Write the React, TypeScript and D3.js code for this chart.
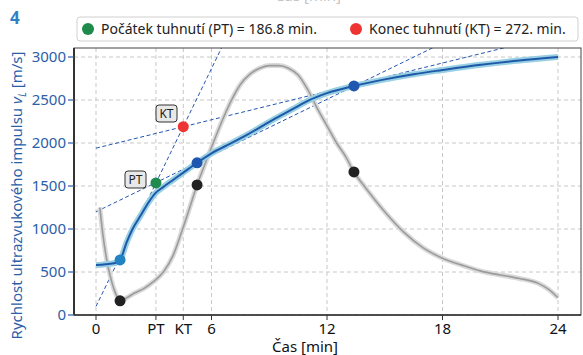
import * as d3 from "d3";

// time in hours (axis says min), values in m/s
const blueT = [0, 0.5, 1.0, 1.25, 1.6, 1.9, 2.3, 2.7, 3.1, 3.5, 4.0, 4.5, 5.25, 6.0, 7.0, 7.84, 8.7, 9.56, 10.5, 11.0, 12.0, 13.4, 15.0, 16.5, 18.0, 20.0, 22.0, 24.0];
const blueV = [580, 590, 605, 640, 850, 1000, 1150, 1300, 1420, 1490, 1570, 1650, 1770, 1880, 1995, 2095, 2205, 2315, 2430, 2490, 2580, 2663, 2740, 2800, 2849, 2910, 2960, 3000];

const greyT = [0.2, 0.35, 0.55, 0.8, 1.0, 1.25, 1.6, 2.0, 2.5, 3.0, 3.5, 4.0, 4.5, 5.0, 5.25, 5.6, 6.0, 6.5, 7.0, 7.5, 8.0, 8.5, 9.0, 9.5, 10.0, 10.5, 11.0, 11.5, 12.0, 12.5, 13.0, 13.4, 14.0, 15.0, 16.0, 17.0, 18.0, 19.0, 20.0, 21.0, 22.0, 23.0, 23.5, 24.0];
const greyV = [1250, 950, 650, 400, 260, 165, 200, 255, 310, 390, 500, 690, 1000, 1340, 1512, 1720, 1950, 2230, 2480, 2680, 2800, 2870, 2900, 2900, 2870, 2790, 2620, 2400, 2200, 2000, 1830, 1663, 1480, 1200, 960, 780, 660, 580, 510, 465, 425, 365, 300, 200];

// tangent lines v = a + b*t
const tanA = [100, 1200, 1940];
const tanB = [461, 109, 55];

const blueDotT = [1.25, 5.25, 13.4];
const blueDotV = [640, 1770, 2663];
const blackDotT = [1.25, 5.25, 13.4];
const blackDotV = [165, 1512, 1663];

const PT = 186.8 / 60;
const KT = 272 / 60;

const xTickVals = [0, PT, KT, 6, 12, 18, 24];
const xTickLabels = ["0", "PT", "KT", "6", "12", "18", "24"];
const yTicks = [0, 500, 1000, 1500, 2000, 2500, 3000];

const font = "'Noto Sans', 'DejaVu Sans', sans-serif";

export default function App() {
  const W = 583, H = 355;
  const left = 74, right = 581, top = 48, bottom = 315;
  const x = d3.scaleLinear().domain([-22 / 19.25, 24 + 23 / 19.25]).range([left, right]);
  const y = d3.scaleLinear().domain([0, 3000 + 9 / 0.086]).range([bottom, top]);

  const line = d3.line<[number, number]>().x(d => x(d[0])).y(d => y(d[1])).curve(d3.curveMonotoneX);
  const blue = line(blueT.map((t, i) => [t, blueV[i]]));
  const grey = line(greyT.map((t, i) => [t, greyV[i]]));

  const ptV = tanA[0] + tanB[0] * PT;
  const ktV = tanA[0] + tanB[0] * KT;
  const lineEnd = [7, 24, 25.2];

  const blueCol = "#2b5ea8";

  return (
    <svg width={W} height={H} style={{ position: "absolute", left: 0, top: 0 }}>
      <defs>
        <clipPath id="plot">
          <rect x={left} y={top} width={right - left} height={bottom - top} />
        </clipPath>
      </defs>
      <text x={308} y={1} textAnchor="middle" fontFamily={font} fontSize={15} fill="#c4c4c4">Čas [min]</text>
      <text x={10} y={24} fontFamily={font} fontSize={17} fontWeight="bold" fill="#2f80c4">4</text>

      {/* legend */}
      <rect x={77} y={17} width={501} height={24} rx={3} fill="#fff" stroke="#d0d0d0" />
      <circle cx={88} cy={29} r={6} fill="#1f8a4c" />
      <text x={101} y={34} fontFamily={font} fontSize={14} fill="#222">Počátek tuhnutí (PT) = 186.8 min.</text>
      <circle cx={356} cy={29} r={6} fill="#ee3333" />
      <text x={369} y={34} fontFamily={font} fontSize={14} fill="#222">Konec tuhnutí (KT) = 272. min.</text>

      {/* grid */}
      {xTickVals.map((t, i) => (
        <line key={"gx" + i} x1={x(t)} x2={x(t)} y1={top} y2={bottom} stroke="#c8c8c8" strokeDasharray="4,3" />
      ))}
      {yTicks.map(v => (
        <line key={"gy" + v} x1={left} x2={right} y1={y(v)} y2={y(v)} stroke="#c8c8c8" strokeDasharray="4,3" />
      ))}

      <g clipPath="url(#plot)">
        {tanA.map((a, i) => (
          <line key={"tl" + i} x1={x(0)} y1={y(a)} x2={x(lineEnd[i])} y2={y(a + tanB[i] * lineEnd[i])}
            stroke="#2456b0" strokeWidth={1} strokeDasharray="4,2.5" />
        ))}
        <path d={grey!} fill="none" stroke="#dadada" strokeWidth={5} strokeLinejoin="round" />
        <path d={grey!} fill="none" stroke="#9c9c9c" strokeWidth={1.6} />
        <path d={blue!} fill="none" stroke="#97cfe3" strokeWidth={6} strokeLinejoin="round" />
        <path d={blue!} fill="none" stroke="#1f58a8" strokeWidth={2} />
      </g>

      {blackDotT.map((t, i) => (
        <circle key={"bk" + i} cx={x(t)} cy={y(blackDotV[i])} r={5.5} fill="#222" />
      ))}
      {blueDotT.map((t, i) => (
        <circle key={"bl" + i} cx={x(t)} cy={y(blueDotV[i])} r={5.5} fill={i === 0 ? "#2382c4" : "#1f56b0"} />
      ))}
      <circle cx={x(PT)} cy={y(ptV)} r={5.5} fill="#1f8a4c" />
      <circle cx={x(KT)} cy={y(ktV)} r={5.5} fill="#ee3333" />

      {/* PT / KT boxes */}
      <rect x={125} y={171} width={21} height={17} rx={3} fill="#e8e8e8" stroke="#333" />
      <text x={135.5} y={184} textAnchor="middle" fontFamily={font} fontSize={12} fill="#222">PT</text>
      <rect x={156} y={105} width={21} height={17} rx={3} fill="#e8e8e8" stroke="#333" />
      <text x={166.5} y={118} textAnchor="middle" fontFamily={font} fontSize={12} fill="#222">KT</text>

      {/* frame */}
      <rect x={left} y={top} width={right - left} height={bottom - top} fill="none" stroke="#444" strokeWidth={1} />
      <line x1={left} x2={left} y1={top} y2={bottom} stroke="#333" strokeWidth={2} />
      <line x1={left} x2={right} y1={bottom} y2={bottom} stroke="#333" strokeWidth={1.5} />

      {/* y axis */}
      {yTicks.map(v => (
        <g key={"yt" + v}>
          <line x1={left - 6} x2={left} y1={y(v)} y2={y(v)} stroke={blueCol} strokeWidth={1.2} />
          <text x={left - 8} y={y(v) + 5} textAnchor="end" fontFamily={font} fontSize={15} fill={blueCol}>{v}</text>
        </g>
      ))}
      <text transform={`translate(22,${(top + bottom) / 2 + 14}) rotate(-90)`} textAnchor="middle"
        fontFamily={font} fontSize={15} fill={blueCol}>
        Rychlost ultrazvukového impulsu <tspan fontStyle="italic">v</tspan><tspan fontSize={10} dy={4} fontStyle="italic">L</tspan><tspan dy={-4}> [m/s]</tspan>
      </text>

      {/* x axis */}
      {xTickVals.map((t, i) => (
        <g key={"xt" + i}>
          <line x1={x(t)} x2={x(t)} y1={bottom} y2={bottom + 5} stroke="#333" />
          <text x={x(t)} y={bottom + 19} textAnchor="middle" fontFamily={font} fontSize={15} fill="#111">{xTickLabels[i]}</text>
        </g>
      ))}
      <text x={305} y={352} textAnchor="middle" fontFamily={font} fontSize={15} fill="#111">Čas [min]</text>
    </svg>
  );
}
